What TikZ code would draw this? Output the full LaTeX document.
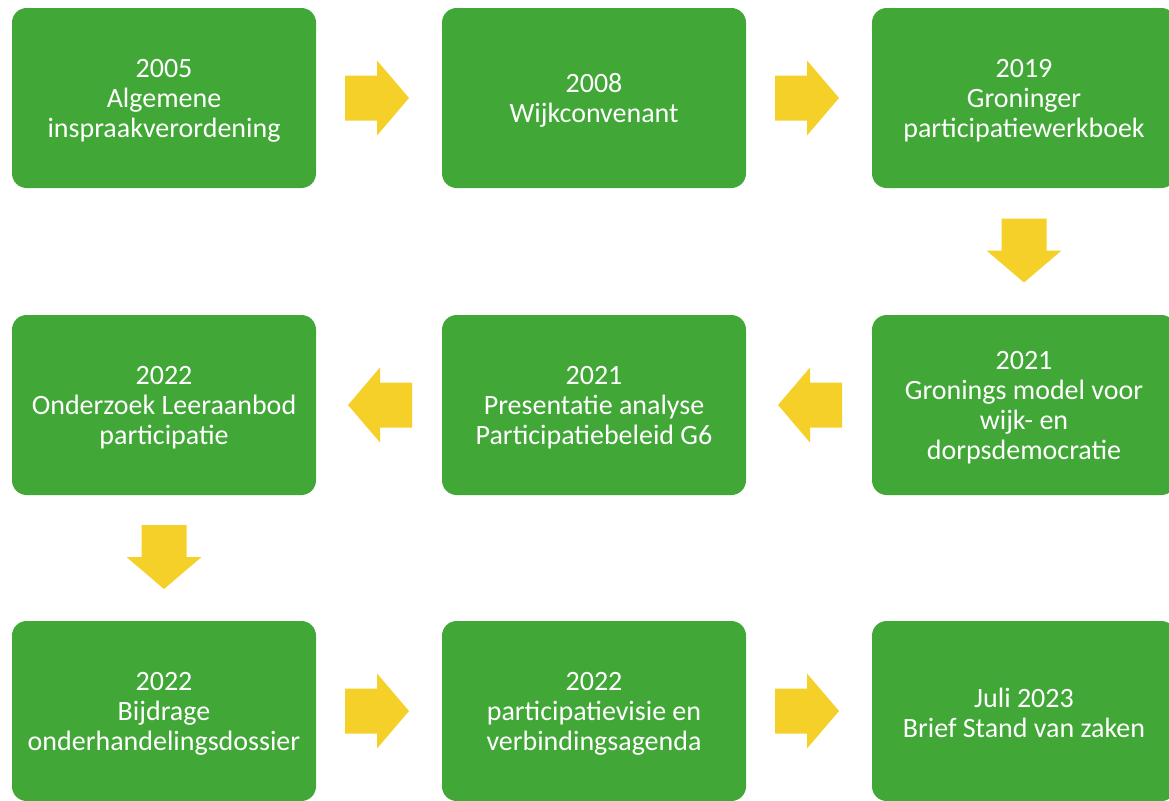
\documentclass[tikz,border=0pt]{standalone}
\usepackage{fontspec}
\setmainfont{Carlito}
\usetikzlibrary{calc}
\definecolor{boxgreen}{RGB}{65,167,55}
\definecolor{arrowyellow}{RGB}{245,208,40}
\newcommand{\topstrut}{\rule{0pt}{18pt}}
\tikzset{
  stepbox/.style={rectangle, rounded corners=11pt, fill=boxgreen, text=white,
    minimum width=228pt, minimum height=135pt, inner sep=0pt, align=center,
    font=\fontsize{21}{22.5}\selectfont},
}
% block arrow pointing right, centred at #1, rotated by #2 degrees
\newcommand{\blockarr}[2]{%
  \fill[arrowyellow, shift={#1}, rotate=#2]
    (-32,-22.5) -- (0,-22.5) -- (0,-37.5) -- (32,0) -- (0,37.5) -- (0,22.5) -- (-32,22.5) -- cycle;}
\begin{document}
\begin{tikzpicture}[x=0.75pt,y=-0.75pt]
\useasboundingbox (0,0) rectangle (1169,800);
% row 1
\node[stepbox] (b1) at (164,98) {\topstrut 2005\\Algemene\\inspraakverordening};
\node[stepbox] (b2) at (594,98) {\topstrut 2008\\Wijkconvenant};
\node[stepbox] (b3) at (1024,98) {\topstrut 2019\\Groninger\\participatiewerkboek};
% row 2
\node[stepbox] (b4) at (1024,405) {\topstrut 2021\\Gronings model voor\\wijk- en\\dorpsdemocratie};
\node[stepbox] (b5) at (594,405) {\topstrut 2021\\Presentatie analyse\\Participatiebeleid G6};
\node[stepbox] (b6) at (164,405) {\topstrut 2022\\Onderzoek Leeraanbod\\participatie};
% row 3
\node[stepbox] (b7) at (164,711) {\topstrut 2022\\Bijdrage\\onderhandelingsdossier};
\node[stepbox] (b8) at (594,711) {\topstrut 2022\\participatievisie en\\verbindingsagenda};
\node[stepbox] (b9) at (1024,711) {\topstrut Juli 2023\\Brief Stand van zaken};
% arrow positions between the boxes
\coordinate (a12) at ($(b1.east)!0.5!(b2.west)+(-2,0)$);
\coordinate (a23) at ($(b2.east)!0.5!(b3.west)+(-2,0)$);
\coordinate (a34) at ($(b3.south)!0.5!(b4.north)+(0,-1)$);
\coordinate (a45) at ($(b4.west)!0.5!(b5.east)+(1,0)$);
\coordinate (a56) at ($(b5.west)!0.5!(b6.east)+(1,0)$);
\coordinate (a67) at ($(b6.south)!0.5!(b7.north)+(0,-1)$);
\coordinate (a78) at ($(b7.east)!0.5!(b8.west)+(-2,0)$);
\coordinate (a89) at ($(b8.east)!0.5!(b9.west)+(-2,0)$);
\blockarr{(a12)}{0}
\blockarr{(a23)}{0}
\blockarr{(a34)}{-90}
\blockarr{(a45)}{180}
\blockarr{(a56)}{180}
\blockarr{(a67)}{-90}
\blockarr{(a78)}{0}
\blockarr{(a89)}{0}
\end{tikzpicture}
\end{document}
